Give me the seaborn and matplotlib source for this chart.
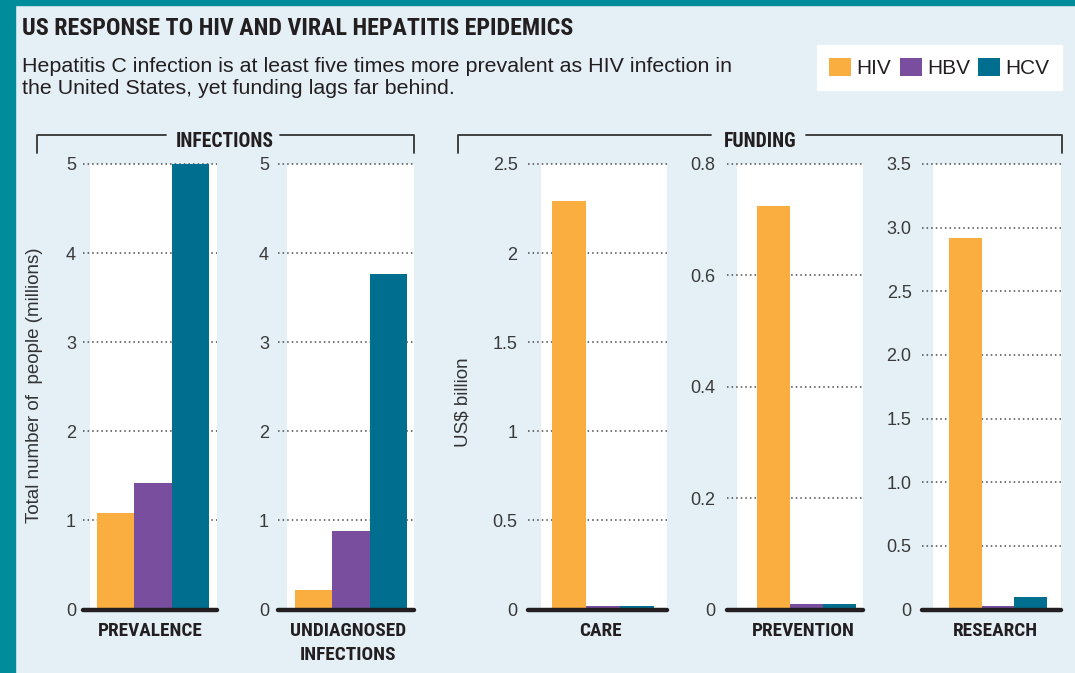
import numpy as np
import pandas as pd
import matplotlib
matplotlib.use("Agg")
import matplotlib.pyplot as plt
import seaborn as sns
from matplotlib.lines import Line2D
from matplotlib.patches import Rectangle

# =============================================================================
# DATA
# =============================================================================

TITLE = "US RESPONSE TO HIV AND VIRAL HEPATITIS EPIDEMICS"
SUBTITLE = ("Hepatitis C infection is at least five times more prevalent as HIV infection in\n"
            "the United States, yet funding lags far behind.")

VIRUSES = ['HIV', 'HBV', 'HCV']
PANELS = ['PREVALENCE', 'UNDIAGNOSED\nINFECTIONS', 'CARE', 'PREVENTION', 'RESEARCH']
GROUPS = ['INFECTIONS', 'FUNDING']

HIV_VALUES = [1.08, 0.22, 2.29, 0.725, 2.92]
HBV_VALUES = [1.42, 0.88, 0.017, 0.009, 0.025]
HCV_VALUES = [5.0, 3.76, 0.017, 0.010, 0.095]

Y_TICKS = [
    [0, 1, 2, 3, 4, 5],
    [0, 1, 2, 3, 4, 5],
    [0, 0.5, 1, 1.5, 2, 2.5],
    [0, 0.2, 0.4, 0.6, 0.8],
    [0, 0.5, 1, 1.5, 2, 2.5, 3, 3.5],
]
Y_TICK_LABELS = [
    ['0', '1', '2', '3', '4', '5'],
    ['0', '1', '2', '3', '4', '5'],
    ['0', '0.5', '1', '1.5', '2', '2.5'],
    ['0', '0.2', '0.4', '0.6', '0.8'],
    ['0', '0.5', '1.0', '1.5', '2.0', '2.5', '3.0', '3.5'],
]
YLABEL_INFECTIONS = "Total number of  people (millions)"
YLABEL_FUNDING = "US$ billion"

# =============================================================================
# STYLE / LAYOUT
# =============================================================================

W, H = 1075, 673
BG = '#E4EFF6'
TEAL = '#008C9A'
INK = '#231F20'
COLORS = {'HIV': '#FBAE40', 'HBV': '#7A4E9E', 'HCV': '#006E8F'}

SANS = ['Liberation Sans', 'DejaVu Sans']
# condensed headline face if one is around, otherwise plain DejaVu
COND = ['Noto Sans ExtraCondensed', 'Noto Sans Condensed', 'Roboto Condensed',
        'Liberation Sans Narrow', 'DejaVu Sans']

# axes extents in pixels (left, right), xlims and where the white plot area starts
AXES_PX = [(83, 217), (278, 414), (528, 667), (727, 863), (922, 1061)]
XLIMS = [(-0.500, 0.457), (-0.521, 0.450), (-0.588, 0.502), (-0.642, 0.457), (-0.620, 0.514)]
WHITE_START = [-0.450, -0.457, -0.486, -0.562, -0.531]
TICK_PADS = [5, 6.5, 7.5, 8.5, 7.5]
Y0_PX, YTOP_PX = 609.5, 164


def fx(px):
    return px / W


def fy(px):
    return 1 - px / H


def fit_width(txt, target_px, renderer):
    w = txt.get_window_extent(renderer).width
    txt.set_fontsize(txt.get_fontsize() * target_px / w)
    return txt.get_fontsize()


def main():
    rows = []
    for p, a, b, c in zip(PANELS, HIV_VALUES, HBV_VALUES, HCV_VALUES):
        for v, val in zip(VIRUSES, [a, b, c]):
            rows.append({'Panel': p, 'Virus': v, 'Value': val})
    df = pd.DataFrame(rows)

    sns.set_theme(style="white")
    plt.rcParams['font.family'] = SANS

    fig = plt.figure(figsize=(W / 100, H / 100), dpi=100)
    fig.patch.set_facecolor(BG)
    fig.add_artist(Rectangle((0, 0), fx(15), 1, transform=fig.transFigure,
                             color=TEAL, zorder=0))
    fig.add_artist(Rectangle((0, fy(5)), 1, 5 / H, transform=fig.transFigure,
                             color=TEAL, zorder=0))

    bottom = fy(Y0_PX)
    height = (Y0_PX - YTOP_PX) / H
    cat_labels = []
    axes = []

    for i, name in enumerate(PANELS):
        l, r = AXES_PX[i]
        ax = fig.add_axes([fx(l), bottom, (r - l) / W, height])
        ax.set_facecolor(BG)
        sub = df[df['Panel'] == name]
        sns.barplot(data=sub, x='Panel', y='Value', hue='Virus', hue_order=VIRUSES,
                    palette=COLORS, saturation=1, width=0.8, linewidth=0,
                    ax=ax, legend=(i == 4))
        ax.axvspan(WHITE_START[i], XLIMS[i][1], color='white', zorder=0, lw=0)
        ax.set_xlim(*XLIMS[i])
        ax.set_ylim(0, Y_TICKS[i][-1])
        ax.set_yticks(Y_TICKS[i])
        ax.set_yticklabels(Y_TICK_LABELS[i])
        ax.set_xticks([])
        ax.set_xlabel('')
        ax.set_ylabel('')
        for s in ax.spines.values():
            s.set_visible(False)
        ax.set_axisbelow(True)
        ax.yaxis.grid(True, linestyle=(0, (1, 2)), color='#4a4a4a', linewidth=1.1)
        for gl in ax.get_ygridlines():
            gl.set_clip_on(False)
        ax.tick_params(axis='y', length=0, pad=TICK_PADS[i], labelsize=13,
                       labelcolor='#3a3a3a')
        ax.axhline(0, color=INK, lw=3.2, zorder=3, clip_on=False)

        t = ax.annotate(name, xy=(0, 0), xycoords=ax.get_xaxis_transform(),
                        xytext=(-2, -9), textcoords='offset points',
                        ha='center', va='top', family=COND, fontstretch='condensed',
                        weight='bold', fontsize=14, color=INK, linespacing=1.4)
        cat_labels.append(t)
        axes.append(ax)

    # legend
    sns.move_legend(axes[4], 'upper right', bbox_to_anchor=(fx(1062), fy(45)),
                    bbox_transform=fig.transFigure, ncol=3, title=None,
                    frameon=True, fancybox=False, framealpha=1, facecolor='white',
                    edgecolor='white', fontsize=15, handlelength=1.06,
                    handleheight=1.0, handletextpad=0.25, columnspacing=0.4,
                    borderpad=0.6, borderaxespad=0)
    for txt in axes[4].get_legend().get_texts():
        txt.set_color(INK)

    # y labels
    fig.text(fx(35), fy(385), YLABEL_INFECTIONS, rotation=90, ha='center', va='center',
             fontsize=13.5, color='#333333')
    fig.text(fx(463), fy(402), YLABEL_FUNDING, rotation=90, ha='center', va='center',
             fontsize=13.5, color='#333333')

    # title and subtitle
    title = fig.text(fx(22), fy(35), TITLE, ha='left', va='baseline', family=COND,
                     fontstretch='condensed', weight='bold', fontsize=20, color=INK)
    subtitle = fig.text(fx(22), fy(57), SUBTITLE, ha='left', va='top',
                        fontsize=13, color=INK, linespacing=1.2)

    # group brackets
    bracket = dict(color='#333333', lw=1.3, transform=fig.transFigure)
    group_txt = []
    for label, (x0, g0, g1, x1), cx in zip(GROUPS, [(37, 166, 280, 414), (458, 711, 806, 1062)],
                                          [225, 760]):
        fig.add_artist(Line2D([fx(x0), fx(x0), fx(g0)], [fy(153), fy(135), fy(135)], **bracket))
        fig.add_artist(Line2D([fx(g1), fx(x1), fx(x1)], [fy(135), fy(135), fy(153)], **bracket))
        group_txt.append(fig.text(fx(cx), fy(147), label, ha='center', va='baseline',
                                  family=COND, fontstretch='condensed', weight='bold',
                                  fontsize=16, color=INK))

    renderer = fig.canvas.get_renderer()
    fit_width(title, 551, renderer)
    fit_width(subtitle, 709, renderer)
    size = fit_width(group_txt[0], 98, renderer)
    group_txt[1].set_fontsize(size)
    size = fit_width(cat_labels[0], 105, renderer)
    for t in cat_labels[1:]:
        t.set_fontsize(size)

    fig.savefig("out.png", dpi=100, facecolor=fig.get_facecolor())
    plt.close(fig)


if __name__ == "__main__":
    main()
